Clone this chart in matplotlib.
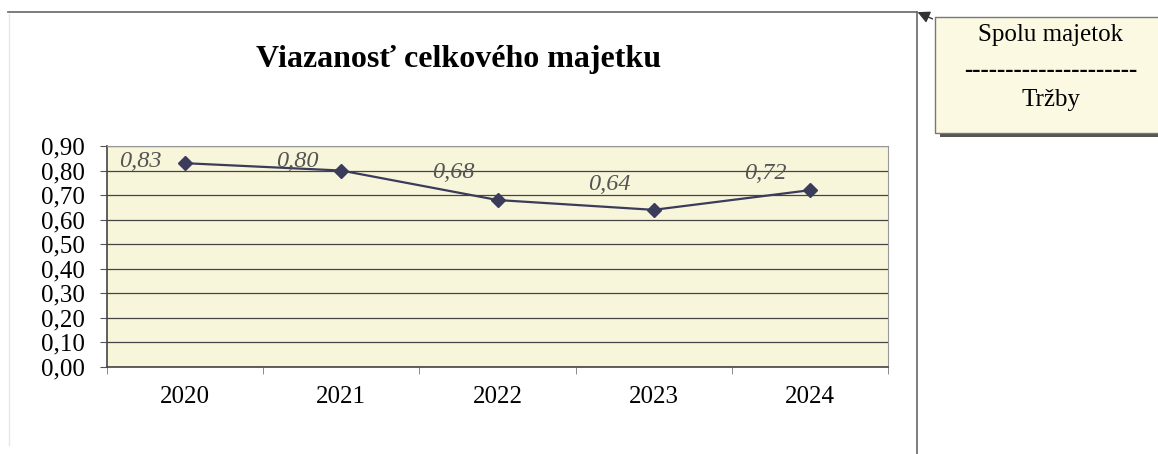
import matplotlib
matplotlib.use('Agg')
from matplotlib import pyplot as plt
from matplotlib.patches import Rectangle, FancyArrowPatch
from matplotlib.lines import Line2D

years = ['2020', '2021', '2022', '2023', '2024']
values = [0.83, 0.80, 0.68, 0.64, 0.72]
value_labels = ['0,83', '0,80', '0,68', '0,64', '0,72']
y_ticks = [0.0, 0.1, 0.2, 0.3, 0.4, 0.5, 0.6, 0.7, 0.8, 0.9]
# vertical lift of each value label (points), as placed in the original
label_lift = [1, 6.5, 20, 18, 12]

plt.rcParams['font.family'] = ['Liberation Serif', 'DejaVu Serif']

W, H = 1158, 454
fig = plt.figure(figsize=(W / 100, H / 100), dpi=100)
fig.patch.set_facecolor('white')

# plot area in pixels: left 107, right 888, top 146, bottom 367
ax = fig.add_axes([107 / W, 1 - 367 / H, (888 - 107) / W, (367 - 146) / H])
ax.set_facecolor('#f8f6da')
x = list(range(len(years)))
ax.plot(x, values, color='#3b3b5c', lw=1.6, marker='D', ms=7,
        mfc='#3b3b5c', mec='#3b3b5c', zorder=3)
for xi, v, lab, dy in zip(x, values, value_labels, label_lift):
    ax.annotate(lab, (xi, v), xytext=(-32, dy), textcoords='offset points',
                ha='center', va='center', fontsize=17.5, style='italic',
                color='#555555')

ax.set_xlim(-0.5, len(years) - 0.5)
ax.set_ylim(0, 0.9)
ax.set_yticks(y_ticks)
ax.set_yticklabels([f'{t:.2f}'.replace('.', ',') for t in y_ticks], fontsize=18)
ax.set_xticks(x)
ax.set_xticklabels(years, fontsize=18)
ax.set_xticks([i - 0.5 for i in x] + [len(years) - 0.5], minor=True)
ax.tick_params(axis='x', which='major', length=0, pad=14)
ax.tick_params(axis='x', which='minor', length=5, color='#777777', direction='out')
ax.tick_params(axis='y', length=5, pad=11, color='#555555')
ax.yaxis.grid(True, color='#444444', lw=0.9)
ax.set_axisbelow(True)
for s in ['top', 'right']:
    ax.spines[s].set_color('#999999')
for s in ['left', 'bottom']:
    ax.spines[s].set_color('#444444')
    ax.spines[s].set_linewidth(1.2)

fig.text(459 / W, 1 - 59 / H, 'Viazanosť celkového majetku', ha='center',
         va='center', fontsize=23, fontweight='bold')

# outer frame lines
fig.add_artist(Line2D([8 / W, 917 / W], [1 - 12 / H, 1 - 12 / H], color='#666666', lw=1.2))
fig.add_artist(Line2D([917 / W, 917 / W], [1 - 12 / H, 0], color='#666666', lw=1.2))
fig.add_artist(Line2D([9 / W, 9 / W], [1 - 14 / H, 1 - 445 / H], color='#e6e6e6', lw=1.0))
fig.add_artist(FancyArrowPatch((935 / W, 1 - 20 / H), (915 / W, 1 - 11 / H),
                               transform=fig.transFigure, arrowstyle='-|>',
                               mutation_scale=18, color='#333333', lw=1))

# callout box with shadow
fig.add_artist(Rectangle((940 / W, 1 - 137 / H), 220 / W, 118 / H,
                         transform=fig.transFigure, facecolor='#555555',
                         edgecolor='none'))
fig.add_artist(Rectangle((935 / W, 1 - 133 / H), 224 / W, 116 / H,
                         transform=fig.transFigure, facecolor='#fbf9e2',
                         edgecolor='#777777', lw=1))
fig.text(1051 / W, 1 - 35 / H, 'Spolu majetok', ha='center', va='center', fontsize=18)
fig.text(1051 / W, 1 - 70 / H, '-' * 21, ha='center', va='center', fontsize=18,
         fontweight='bold')
fig.text(1051 / W, 1 - 100 / H, 'Tržby', ha='center', va='center', fontsize=18)

fig.savefig('out.png', dpi=100)
